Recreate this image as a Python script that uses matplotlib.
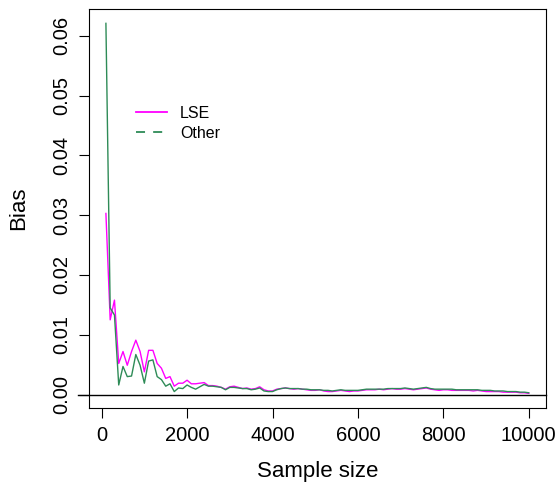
import matplotlib
matplotlib.use("Agg")
import matplotlib.pyplot as plt
import matplotlib.transforms as mtransforms
from matplotlib.lines import Line2D

plt.rcParams["font.family"] = ["Liberation Sans", "DejaVu Sans"]

sample_size = list(range(100, 10001, 100))

bias_lse = [
    0.0303, 0.0125, 0.0158, 0.0052, 0.0072, 0.0049, 0.0072, 0.0091, 0.0072, 0.0038,
    0.0074, 0.0074, 0.0052, 0.0044, 0.0027, 0.0030, 0.0014, 0.0019, 0.0019, 0.0024,
    0.0018, 0.0018, 0.0019, 0.0020, 0.0015, 0.0015, 0.0014, 0.0012, 0.0009, 0.0013,
    0.0014, 0.0012, 0.0010, 0.0011, 0.0009, 0.0010, 0.0013, 0.0008, 0.0006, 0.0006,
    0.0009, 0.0010, 0.0011, 0.0010, 0.0009, 0.0010, 0.0009, 0.0008, 0.0007, 0.0007,
    0.0008, 0.0006, 0.0005, 0.0005, 0.0006, 0.0007, 0.0006, 0.0005, 0.0006, 0.0006,
    0.0007, 0.0008, 0.0008, 0.0008, 0.0009, 0.0008, 0.0009, 0.0010, 0.0009, 0.0009,
    0.0010, 0.0009, 0.0008, 0.0009, 0.0010, 0.0011, 0.0009, 0.0008, 0.0007, 0.0008,
    0.0008, 0.0007, 0.0007, 0.0007, 0.0007, 0.0007, 0.0006, 0.0007, 0.0006, 0.0005,
    0.0005, 0.0005, 0.0005, 0.0004, 0.0004, 0.0004, 0.0004, 0.0003, 0.0003, 0.0002,
]

bias_other = [
    0.0621, 0.0145, 0.0133, 0.0016, 0.0047, 0.0030, 0.0031, 0.0067, 0.0049, 0.0019,
    0.0056, 0.0058, 0.0030, 0.0025, 0.0014, 0.0018, 0.0005, 0.0011, 0.0010, 0.0016,
    0.0012, 0.0009, 0.0013, 0.0017, 0.0014, 0.0014, 0.0013, 0.0012, 0.0008, 0.0012,
    0.0012, 0.0011, 0.0010, 0.0010, 0.0008, 0.0009, 0.0011, 0.0006, 0.0005, 0.0005,
    0.0008, 0.0010, 0.0011, 0.0010, 0.0010, 0.0010, 0.0009, 0.0009, 0.0008, 0.0008,
    0.0008, 0.0007, 0.0007, 0.0006, 0.0007, 0.0008, 0.0007, 0.0007, 0.0007, 0.0007,
    0.0008, 0.0009, 0.0009, 0.0009, 0.0009, 0.0009, 0.0010, 0.0010, 0.0010, 0.0010,
    0.0011, 0.0010, 0.0009, 0.0010, 0.0011, 0.0012, 0.0010, 0.0009, 0.0009, 0.0009,
    0.0009, 0.0009, 0.0008, 0.0008, 0.0008, 0.0008, 0.0008, 0.0008, 0.0007, 0.0007,
    0.0007, 0.0006, 0.0006, 0.0006, 0.0005, 0.0005, 0.0005, 0.0004, 0.0004, 0.0003,
]

fig = plt.figure(figsize=(5.6, 4.86), dpi=100)
ax = fig.add_axes([89 / 560, 1 - 408 / 486, 456.7 / 560, 399 / 486])

ax.plot(sample_size, bias_lse, color="magenta", lw=1.0)
ax.plot(sample_size, bias_other, color="seagreen", lw=1.0)

# horizontal line at zero, runs a bit past the left edge like in R
trans = mtransforms.blended_transform_factory(ax.transAxes, ax.transData)
ax.plot([-0.025, 1], [0, 0], color="black", lw=1.0, transform=trans, clip_on=False)

ax.set_xlim(-296, 10396)
ax.set_ylim(-0.00225, 0.0645)
ax.set_xticks([0, 2000, 4000, 6000, 8000, 10000])
ax.set_yticks([0.00, 0.01, 0.02, 0.03, 0.04, 0.05, 0.06])
ax.set_yticklabels(["0.00", "0.01", "0.02", "0.03", "0.04", "0.05", "0.06"],
                   rotation=90, va="center")
ax.tick_params(length=7, width=0.8, labelsize=14.5, pad=6)
for s in ax.spines.values():
    s.set_linewidth(0.8)

ax.set_xlabel("Sample size", fontsize=16)
ax.set_ylabel("Bias", fontsize=16)
ax.xaxis.set_label_coords(0.5, -0.16)
ax.yaxis.set_label_coords(-0.155, 0.5)
ax.xaxis.label.set_va("center")
ax.yaxis.label.set_va("center")

handles = [Line2D([], [], color="magenta", lw=1.3),
           Line2D([], [], color="seagreen", lw=1.3, ls=(0, (5, 4.5)))]
ax.legend(handles, ["LSE", "Other"], loc="upper left",
          bbox_to_anchor=(136 / 560, 1 - 106 / 486), bbox_transform=fig.transFigure,
          frameon=False, fontsize=11.5, handlelength=1.95, handletextpad=0.8,
          borderpad=0, borderaxespad=0, labelspacing=0.3)

fig.savefig("out.png", dpi=100)
